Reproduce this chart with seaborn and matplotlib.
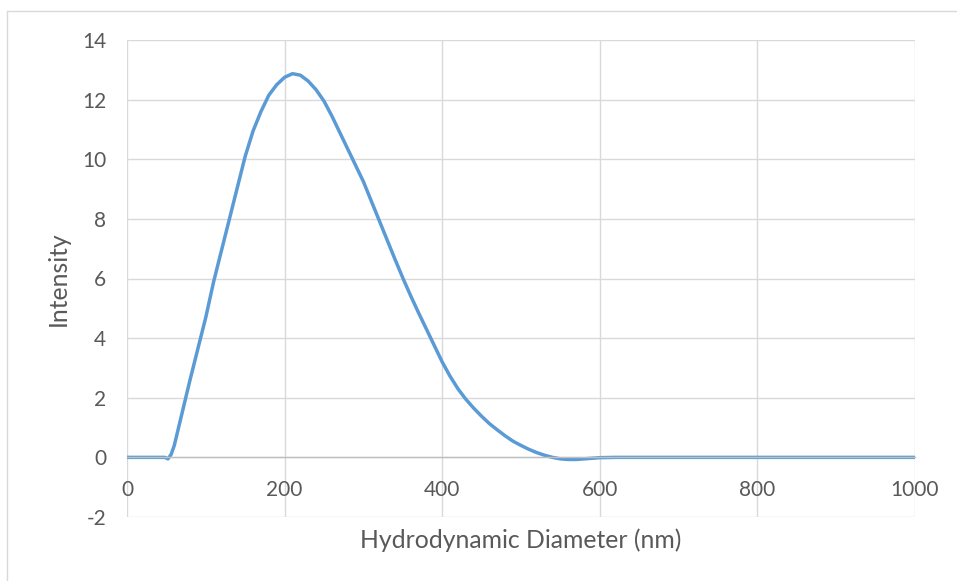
import matplotlib
matplotlib.use("Agg")
from matplotlib import pyplot as plt
from matplotlib.lines import Line2D
import pandas as pd
import seaborn as sns

# Intensity distribution
diameter = [0, 20, 40, 48, 52, 56, 60, 65, 70, 75, 80, 90, 100, 110, 120, 130,
            140, 150, 160, 170, 180, 190, 200, 210, 220, 230, 240, 250, 260, 270,
            280, 290, 300, 310, 320, 330, 340, 350, 360, 370, 380, 390, 400, 410,
            420, 430, 440, 450, 460, 470, 480, 490, 500, 510, 520, 530, 540, 550,
            560, 570, 580, 590, 600, 620, 700, 800, 900, 1000]
intensity = [0, 0, 0, 0, -0.05, 0.1, 0.4, 0.95, 1.5, 2.05, 2.6, 3.65, 4.7, 5.9, 6.95, 8.0,
             9.05, 10.1, 10.95, 11.6, 12.15, 12.5, 12.75, 12.87, 12.82, 12.62, 12.33, 11.95, 11.45, 10.9,
             10.35, 9.8, 9.25, 8.6, 7.95, 7.3, 6.65, 6.02, 5.42, 4.85, 4.3, 3.75, 3.2, 2.72,
             2.3, 1.95, 1.65, 1.38, 1.13, 0.92, 0.72, 0.54, 0.4, 0.27, 0.16, 0.07, 0.0, -0.05,
             -0.07, -0.07, -0.05, -0.03, -0.01, 0, 0, 0, 0, 0]

x_ticks = [0, 200, 400, 600, 800, 1000]
y_ticks = [-2, 0, 2, 4, 6, 8, 10, 12, 14]

df = pd.DataFrame({"diameter": diameter, "intensity": intensity})

sns.set_style("white")
plt.rcParams["font.family"] = ["Lato", "DejaVu Sans"]
plt.rcParams["axes.unicode_minus"] = False
text_color = "#595959"
grid_color = "#d9d9d9"

fig = plt.figure(figsize=(9.57, 5.81), dpi=100)
ax = fig.add_axes([127 / 957, 1 - 517 / 581, (915 - 127) / 957, (517 - 40) / 581])

# outer chart frame (only top and left edges are visible)
fig.add_artist(Line2D([7 / 957, 1], [1 - 11 / 581] * 2, color=grid_color, lw=1))
fig.add_artist(Line2D([7 / 957] * 2, [0, 1 - 11 / 581], color=grid_color, lw=1))

sns.lineplot(data=df, x="diameter", y="intensity", ax=ax, color="#5B9BD5", linewidth=2.5)

ax.set_xlim(0, 1000)
ax.set_ylim(-2, 14)
ax.set_xticks(x_ticks)
ax.set_yticks(y_ticks)
ax.grid(True, color=grid_color, linewidth=1)
ax.set_axisbelow(True)

for side in ["top", "right", "left"]:
    ax.spines[side].set_visible(False)
ax.spines["bottom"].set_position(("data", 0))
ax.spines["bottom"].set_color("#bfbfbf")
ax.spines["bottom"].set_linewidth(1)

ax.tick_params(axis="x", length=0, pad=16, labelsize=15, labelcolor=text_color)
ax.tick_params(axis="y", length=0, pad=15, labelsize=15, labelcolor=text_color)

ax.set_xlabel("Hydrodynamic Diameter (nm)", fontsize=17.8, color=text_color)
ax.xaxis.set_label_coords(0.5, -0.024)
ax.xaxis.label.set_va("top")
ax.set_ylabel("Intensity", fontsize=17.8, color=text_color)
ax.yaxis.set_label_coords(-(127 - 58) / 788, 0.5)
ax.yaxis.label.set_va("center")

plt.savefig("out.png", dpi=100)
